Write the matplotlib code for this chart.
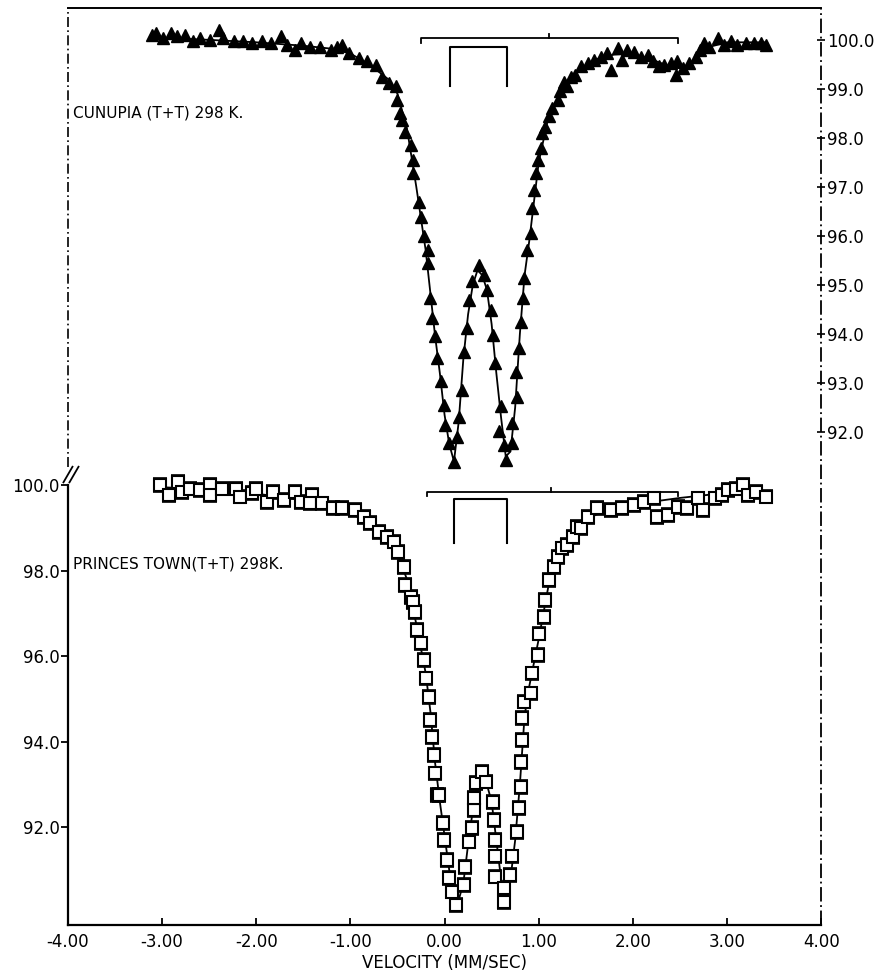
'''plot.py

   Two stacked Mossbauer spectra (Cunupia / Princes Town, 298 K)
'''

import numpy as np
import matplotlib
matplotlib.use('Agg')
import matplotlib.pyplot as plt


#
#  Data
#
# Upper spectrum (filled triangles), right hand scale.
top_v = [-3.11, -3.06, -2.99, -2.91, -2.84, -2.76, -2.67, -2.60, -2.49, -2.40,
         -2.35, -2.24, -2.14, -2.05, -1.94, -1.84, -1.74, -1.67, -1.59, -1.53,
         -1.43, -1.32, -1.21, -1.14, -1.09, -1.02, -0.91, -0.82, -0.73, -0.66,
         -0.59, -0.52, -0.50, -0.47, -0.45, -0.415, -0.36, -0.34, -0.33, -0.27,
         -0.255, -0.22, -0.18, -0.18, -0.15, -0.13, -0.10, -0.08, -0.04, -0.01,
         0.01, 0.05, 0.10, 0.135, 0.15, 0.19, 0.205, 0.24, 0.26, 0.29,
         0.365, 0.42, 0.45, 0.49, 0.51, 0.54, 0.58, 0.60, 0.63, 0.65,
         0.72, 0.72, 0.755, 0.77, 0.79, 0.81, 0.83, 0.84, 0.88, 0.915,
         0.93, 0.95, 0.97, 0.99, 1.02, 1.04, 1.07, 1.11, 1.145, 1.20,
         1.23, 1.27, 1.30, 1.34, 1.39, 1.45, 1.52, 1.59, 1.66, 1.73,
         1.77, 1.84, 1.89, 1.94, 2.01, 2.09, 2.16, 2.21, 2.28, 2.33,
         2.40, 2.46, 2.47, 2.53, 2.60, 2.67, 2.71, 2.76, 2.81, 2.90,
         2.97, 3.04, 3.11, 3.20, 3.29, 3.36, 3.41]
top_t = [100.10, 100.14, 100.03, 100.14, 100.07, 100.10, 99.97, 100.03, 100.00, 100.20,
         100.03, 99.97, 99.97, 99.93, 99.97, 99.93, 100.07, 99.90, 99.80, 99.93,
         99.86, 99.86, 99.80, 99.86, 99.90, 99.73, 99.63, 99.56, 99.49, 99.25,
         99.12, 99.05, 98.78, 98.50, 98.37, 98.13, 97.86, 97.55, 97.28, 96.70,
         96.39, 95.99, 95.71, 95.44, 94.73, 94.32, 93.95, 93.50, 93.03, 92.55,
         92.14, 91.77, 91.39, 91.90, 92.31, 92.86, 93.64, 94.12, 94.69, 95.07,
         95.41, 95.20, 94.90, 94.49, 93.98, 93.40, 92.01, 92.52, 91.73, 91.43,
         91.77, 92.18, 93.23, 92.72, 93.71, 94.25, 94.73, 95.14, 95.71, 96.05,
         96.57, 96.94, 97.28, 97.55, 97.79, 98.10, 98.23, 98.44, 98.61, 98.78,
         98.95, 99.15, 99.05, 99.25, 99.29, 99.46, 99.52, 99.59, 99.66, 99.73,
         99.39, 99.83, 99.59, 99.80, 99.76, 99.66, 99.69, 99.56, 99.46, 99.49,
         99.52, 99.29, 99.56, 99.42, 99.52, 99.66, 99.80, 99.93, 99.86, 100.03,
         99.90, 99.97, 99.90, 99.93, 99.93, 99.93, 99.90]

# Fitted curve through the upper spectrum.
top_fit_v = [-3.10, -2.50, -2.00, -1.50, -1.20, -1.00, -0.80, -0.60, -0.50, -0.40,
             -0.30, -0.20, -0.10, -0.05, 0.00, 0.05, 0.10, 0.15, 0.20, 0.25,
             0.30, 0.35, 0.40, 0.45, 0.50, 0.55, 0.60, 0.65, 0.70, 0.75,
             0.80, 0.85, 0.90, 1.00, 1.10, 1.20, 1.40, 1.60, 1.80, 2.00,
             2.20, 2.40, 2.50, 2.60, 2.80, 3.00, 3.40]
top_fit_t = [100.05, 100.00, 99.95, 99.88, 99.82, 99.72, 99.50, 99.20, 98.90, 98.20,
             97.00, 95.70, 93.95, 93.20, 92.35, 91.75, 91.40, 92.20, 93.50, 94.40,
             95.00, 95.30, 95.20, 94.90, 94.20, 93.20, 92.30, 91.50, 91.60, 92.50,
             94.00, 95.20, 95.90, 97.50, 98.40, 98.80, 99.35, 99.60, 99.70, 99.72,
             99.60, 99.45, 99.42, 99.50, 99.85, 99.95, 99.95]

# Lower spectrum (open squares with error bars), left hand scale.
bot_v = [-3.02, -2.93, -2.83, -2.79, -2.70, -2.60, -2.49, -2.49, -2.36, -2.21,
         -2.17, -2.05, -2.00, -1.89, -1.82, -1.71, -1.59, -1.53, -1.41, -1.43,
         -1.30, -1.19, -1.09, -0.95, -0.86, -0.79, -0.70, -0.61, -0.54, -0.49,
         -0.43, -0.415, -0.36, -0.33, -0.31, -0.29, -0.255, -0.22, -0.20, -0.17,
         -0.15, -0.13, -0.11, -0.10, -0.08, -0.06, -0.02, -0.01, 0.03, 0.05,
         0.08, 0.12, 0.205, 0.22, 0.26, 0.29, 0.31, 0.31, 0.33, 0.40,
         0.44, 0.51, 0.52, 0.54, 0.54, 0.54, 0.63, 0.63, 0.70, 0.72,
         0.77, 0.79, 0.81, 0.81, 0.825, 0.825, 0.84, 0.915, 0.93, 0.99,
         1.00, 1.06, 1.07, 1.11, 1.16, 1.20, 1.25, 1.30, 1.36, 1.41,
         1.45, 1.52, 1.62, 1.77, 1.89, 2.01, 2.12, 2.23, 2.26, 2.37,
         2.48, 2.58, 2.69, 2.74, 2.87, 2.95, 3.01, 3.10, 3.17, 3.22,
         3.31, 3.41]
bot_t = [100.00, 99.77, 100.08, 99.84, 99.92, 99.88, 100.00, 99.77, 99.92, 99.92,
         99.73, 99.81, 99.92, 99.61, 99.84, 99.65, 99.84, 99.61, 99.77, 99.57,
         99.57, 99.46, 99.46, 99.42, 99.26, 99.11, 98.91, 98.79, 98.68, 98.44,
         98.09, 97.66, 97.39, 97.27, 97.04, 96.61, 96.30, 95.91, 95.48, 95.05,
         94.51, 94.12, 93.69, 93.26, 92.76, 92.76, 92.10, 91.71, 91.24, 90.81,
         90.50, 90.19, 90.65, 91.08, 91.67, 91.98, 92.41, 92.68, 93.03, 93.30,
         93.07, 92.60, 92.17, 91.71, 91.32, 90.85, 90.58, 90.26, 90.89, 91.32,
         91.90, 92.45, 92.95, 93.53, 94.04, 94.55, 94.94, 95.13, 95.60, 96.03,
         96.53, 96.92, 97.31, 97.78, 98.09, 98.32, 98.52, 98.60, 98.79, 99.03,
         98.99, 99.26, 99.46, 99.42, 99.46, 99.53, 99.61, 99.69, 99.26, 99.30,
         99.49, 99.46, 99.69, 99.42, 99.69, 99.77, 99.88, 99.92, 100.00, 99.77,
         99.84, 99.73]

# Fitted curve through the lower spectrum.
bot_fit_v = [-3.00, -2.50, -2.00, -1.50, -1.20, -1.00, -0.80, -0.60, -0.50, -0.40,
             -0.30, -0.20, -0.15, -0.10, -0.05, 0.00, 0.05, 0.10, 0.15, 0.20,
             0.25, 0.30, 0.35, 0.40, 0.45, 0.50, 0.55, 0.60, 0.65, 0.70,
             0.75, 0.80, 0.85, 0.90, 1.00, 1.10, 1.20, 1.30, 1.40, 1.60,
             1.80, 2.00, 2.50, 3.00, 3.40]
bot_fit_t = [99.95, 99.90, 99.80, 99.65, 99.48, 99.35, 99.10, 98.75, 98.40, 97.80,
             96.75, 95.60, 94.70, 93.50, 92.60, 91.80, 91.00, 90.35, 90.30, 90.70,
             91.60, 92.40, 93.00, 93.15, 93.00, 92.60, 91.70, 90.80, 90.35, 90.80,
             91.70, 93.00, 94.60, 95.30, 96.40, 97.60, 98.30, 98.65, 98.95, 99.30,
             99.45, 99.55, 99.70, 99.82, 99.85]

# Line position bars: [main bar left, main bar right, centre tick, doublet left, doublet right]
top_bars = [-0.255, 2.475, 1.11, 0.056, 0.667]
bot_bars = [-0.19, 2.475, 1.13, 0.10, 0.66]

x_ticks = [-4.0, -3.0, -2.0, -1.0, 0.0, 1.0, 2.0, 3.0, 4.0]
left_ticks = [92.0, 94.0, 96.0, 98.0, 100.0]
right_ticks = [92.0, 93.0, 94.0, 95.0, 96.0, 97.0, 98.0, 99.0, 100.0]


#
#  Figure
#
fig = plt.figure(figsize=(8.77, 9.76), dpi=100)
ax = fig.add_axes([0.0775, 0.0523, 0.8588, 0.9395])
axt = ax.twinx()

ax.set_xlim(-4.0, 4.0)
ax.set_ylim(89.72, 111.15)
axt.set_ylim(81.94, 100.65)

FS = 12

# Lower spectrum
ax.errorbar(bot_v, bot_t, yerr=0.16, fmt='none', ecolor='black',
            elinewidth=1.2, capsize=5, capthick=1.2, zorder=2)
ax.plot(bot_fit_v, bot_fit_t, color='black', lw=1.3, zorder=3)
ax.plot(bot_v, bot_t, linestyle='none', marker='s', ms=8, mfc='white',
        mec='black', mew=1.5, zorder=4)

# Upper spectrum
axt.plot(top_fit_v, top_fit_t, color='black', lw=1.3, zorder=3)
axt.plot(top_v, top_t, linestyle='none', marker='^', ms=8, color='black',
         zorder=4)


def draw_bars(a, b, y0, ytick, ydown, ytop, ylegs):
    # Line position stick diagram above each spectrum
    a.plot([b[0], b[0], b[1], b[1]], [ydown, y0, y0, ydown], color='black', lw=1.3)
    a.plot([b[2], b[2]], [y0, ytick], color='black', lw=1.3)
    a.plot([b[3], b[3], b[4], b[4]], [ylegs, ytop, ytop, ylegs], color='black', lw=1.5)


draw_bars(axt, top_bars, 100.04, 100.12, 99.94, 99.86, 99.05)
draw_bars(ax, bot_bars, 99.84, 99.93, 99.75, 99.67, 98.64)

# Labels inside the frame
ax.text(-3.95, 98.15, 'PRINCES TOWN(T+T) 298K.', fontsize=11, va='center', ha='left')
axt.text(-3.95, 98.5, 'CUNUPIA (T+T) 298 K.', fontsize=11, va='center', ha='left')

# Axes, ticks
ax.set_xticks(x_ticks)
ax.set_xticklabels([f'{v:.2f}' for v in x_ticks], fontsize=FS)
ax.tick_params(axis='x', direction='in', length=5, width=1.3, pad=6)
ax.set_yticks(left_ticks)
ax.set_yticklabels([f'{v:.1f}' for v in left_ticks], fontsize=FS)
ax.tick_params(axis='y', direction='out', length=5, width=1.3, pad=1)
axt.set_yticks(right_ticks)
axt.set_yticklabels([f'{v:.1f}' for v in right_ticks], fontsize=FS)
axt.tick_params(axis='y', direction='inout', length=6, width=1.2, pad=1)
ax.set_xlabel('VELOCITY (MM/SEC)', fontsize=FS, labelpad=2)

# Frame: solid bottom and top, scanned looking dashed sides
for a in (ax, axt):
    for s in a.spines.values():
        s.set_visible(False)
ax.spines['bottom'].set_visible(True)
ax.spines['bottom'].set_linewidth(1.6)
ax.spines['top'].set_visible(True)
ax.spines['top'].set_linewidth(1.4)

y100 = (100.0 - 89.72) / (111.15 - 89.72)
ax.plot([0, 0], [0, y100], transform=ax.transAxes, color='black', lw=1.6, clip_on=False)
ax.plot([0, 0], [y100 + 0.02, 1], transform=ax.transAxes, color='black', lw=1.2,
        linestyle=(0, (6, 2, 1, 2)), clip_on=False)
ax.plot([1, 1], [0, 1], transform=ax.transAxes, color='black', lw=1.3,
        linestyle=(0, (8, 2, 1, 2)), clip_on=False)
# axis break mark
for dx in (0.0, 0.008):
    ax.plot([-0.006 + dx, 0.006 + dx], [y100 + 0.003, y100 + 0.02],
            transform=ax.transAxes, color='black', lw=1.3, clip_on=False)

fig.savefig('out.png', dpi=100)
